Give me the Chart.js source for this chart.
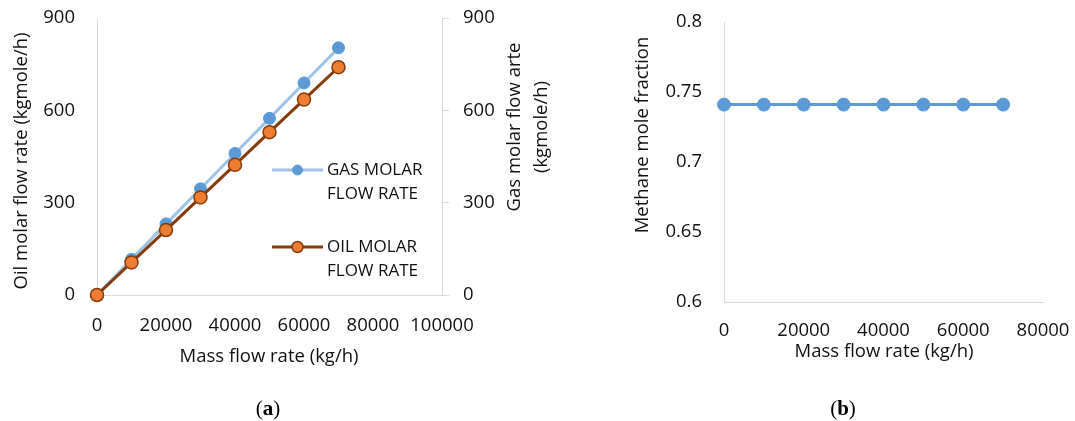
<!DOCTYPE html>
<html>
<head>
<meta charset="utf-8">
<script src="https://cdn.jsdelivr.net/npm/chart.js@4"></script>
<style>
  body { margin: 0; background: #fff; width: 1075px; height: 421px; position: relative; overflow: hidden; }
  .wrap { position: absolute; top: 0; }
  .cap { position: absolute; top: 396px; font-family: "Liberation Serif", serif; font-size: 21px; color: #000; transform: translateX(-50%); }
</style>
</head>
<body>
<div class="wrap" style="left:0"><canvas id="chartA" width="560" height="421"></canvas></div>
<div class="wrap" style="left:560px"><canvas id="chartB" width="515" height="421"></canvas></div>
<div class="cap" style="left:268px">(<b>a</b>)</div>
<div class="cap" style="left:843px">(<b>b</b>)</div>

<script>
// ---- Data ----
const massFlow = [0, 10000, 20000, 30000, 40000, 50000, 60000, 70000];
const gasMolar = [0, 116, 231, 345, 460, 574, 689, 803];
const oilMolar = [0, 106, 211, 317, 423, 529, 635, 740];
const methaneFrac = [0.741, 0.741, 0.741, 0.741, 0.741, 0.741, 0.741, 0.741];

const molarTicks = [0, 300, 600, 900];
const fracTicks = [0.6, 0.65, 0.7, 0.75, 0.8];

// ---- Styles ----
const FONT = '"Open Sans", sans-serif';
const tickFont = { family: FONT, size: 18.5 };
const axisGrey = '#d9d9d9';
const textCol = '#111';

function pts(xs, ys) {
  return xs.map((x, i) => ({ x: x, y: ys[i] }));
}

// fixed axis box size, no extra label overflow padding
function fixSize(w, h) {
  return s => {
    if (w) s.width = w;
    if (h) s.height = h;
    s.paddingTop = 0; s.paddingBottom = 0;
    s.paddingLeft = 0; s.paddingRight = 0;
  };
}

// draws free text (axis titles) and the custom legend
const extraText = {
  id: 'extraText',
  afterDraw(chart, args, opts) {
    const ctx = chart.ctx;
    (opts.items || []).forEach(t => {
      ctx.save();
      ctx.font = t.font || '18.5px ' + FONT;
      ctx.fillStyle = textCol;
      ctx.textAlign = t.align || 'center';
      ctx.textBaseline = 'middle';
      ctx.translate(t.x, t.y);
      if (t.rot) ctx.rotate(t.rot);
      ctx.fillText(t.text, 0, 0);
      ctx.restore();
    });
    (opts.legend || []).forEach(l => {
      ctx.save();
      ctx.strokeStyle = l.line;
      ctx.lineWidth = 3;
      ctx.beginPath();
      ctx.moveTo(l.x, l.y);
      ctx.lineTo(l.x + 51, l.y);
      ctx.stroke();
      ctx.beginPath();
      ctx.arc(l.x + 25.5, l.y, l.r, 0, Math.PI * 2);
      ctx.fillStyle = l.fill;
      ctx.fill();
      ctx.lineWidth = l.bw;
      ctx.strokeStyle = l.border;
      ctx.stroke();
      ctx.font = '17px ' + FONT;
      ctx.fillStyle = textCol;
      ctx.textAlign = 'left';
      ctx.textBaseline = 'middle';
      l.text.forEach((s, i) => ctx.fillText(s, l.x + 55, l.y + i * 24));
      ctx.restore();
    });
  }
};

function fmtTick(v) { return String(Number(v.toFixed(2))); }

// ---- Chart (a) ----
new Chart(document.getElementById('chartA'), {
  type: 'line',
  data: {
    datasets: [
      {
        label: 'GAS MOLAR FLOW RATE',
        data: pts(massFlow, gasMolar),
        yAxisID: 'y1',
        borderColor: '#9DC3E6',
        borderWidth: 3,
        pointRadius: 6,
        pointBackgroundColor: '#5B9BD5',
        pointBorderColor: '#5B9BD5',
        pointBorderWidth: 1,
        clip: false,
        order: 1
      },
      {
        label: 'OIL MOLAR FLOW RATE',
        data: pts(massFlow, oilMolar),
        yAxisID: 'y',
        borderColor: '#843C0C',
        borderWidth: 3,
        pointRadius: 6.5,
        pointBackgroundColor: '#ED7D31',
        pointBorderColor: '#843C0C',
        pointBorderWidth: 1.5,
        clip: false,
        order: 0
      }
    ]
  },
  options: {
    responsive: false,
    animation: false,
    layout: { padding: { top: 18, left: 0, right: 0, bottom: 0 } },
    plugins: {
      legend: { display: false },
      tooltip: { enabled: false },
      extraText: {
        items: [
          { text: 'Oil molar flow rate (kgmole/h)', x: 22, y: 161, rot: -Math.PI / 2 },
          { text: 'Mass flow rate (kg/h)', x: 269, y: 357 },
          { text: 'Gas molar flow arte', x: 515, y: 127, rot: -Math.PI / 2 },
          { text: '(kgmole/h)', x: 542, y: 127, rot: -Math.PI / 2 }
        ],
        legend: [
          { x: 272, y: 170, line: '#9DC3E6', fill: '#5B9BD5', border: '#5B9BD5', bw: 1, r: 5, text: ['GAS MOLAR', 'FLOW RATE'] },
          { x: 272, y: 247, line: '#843C0C', fill: '#ED7D31', border: '#843C0C', bw: 1.5, r: 5.5, text: ['OIL MOLAR', 'FLOW RATE'] }
        ]
      }
    },
    scales: {
      x: {
        type: 'linear',
        min: 0, max: 100000,
        afterFit: fixSize(0, 126),
        ticks: { stepSize: 20000, font: tickFont, color: textCol, padding: 20, maxRotation: 0, callback: v => String(v) },
        grid: { display: false, drawTicks: false },
        border: { color: axisGrey, width: 1 }
      },
      y: {
        position: 'left',
        min: 0, max: 900,
        afterFit: fixSize(97, 0),
        afterBuildTicks: s => { s.ticks = molarTicks.map(v => ({ value: v })); },
        ticks: { font: tickFont, color: textCol, padding: 22 },
        grid: { display: false, drawTicks: false },
        border: { color: axisGrey, width: 1 }
      },
      y1: {
        position: 'right',
        min: 0, max: 900,
        afterFit: fixSize(118, 0),
        afterBuildTicks: s => { s.ticks = molarTicks.map(v => ({ value: v })); },
        ticks: { font: tickFont, color: textCol, padding: 14 },
        grid: { display: true, drawOnChartArea: false, drawTicks: true, tickLength: 7, color: axisGrey },
        border: { color: axisGrey, width: 1 }
      }
    }
  },
  plugins: [extraText]
});

// ---- Chart (b) ----
new Chart(document.getElementById('chartB'), {
  type: 'line',
  data: {
    datasets: [
      {
        label: 'Methane mole fraction',
        data: pts(massFlow, methaneFrac),
        borderColor: '#5B9BD5',
        borderWidth: 3,
        pointRadius: 6.5,
        pointBackgroundColor: '#5B9BD5',
        pointBorderColor: '#5B9BD5',
        pointBorderWidth: 1,
        clip: false
      }
    ]
  },
  options: {
    responsive: false,
    animation: false,
    layout: { padding: { top: 22, left: 0, right: 32, bottom: 0 } },
    plugins: {
      legend: { display: false },
      tooltip: { enabled: false },
      extraText: {
        items: [
          { text: 'Methane mole fraction', x: 83, y: 135, rot: -Math.PI / 2 },
          { text: 'Mass flow rate (kg/h)', x: 324, y: 352 }
        ]
      }
    },
    scales: {
      x: {
        type: 'linear',
        min: 0, max: 80000,
        afterFit: fixSize(0, 119),
        ticks: { stepSize: 20000, font: tickFont, color: textCol, padding: 18, maxRotation: 0, callback: v => String(v) },
        grid: { display: false, drawTicks: false },
        border: { color: axisGrey, width: 1 }
      },
      y: {
        min: 0.6, max: 0.8,
        afterFit: fixSize(164, 0),
        afterBuildTicks: s => { s.ticks = fracTicks.map(v => ({ value: v })); },
        ticks: { font: tickFont, color: textCol, padding: 22, callback: v => fmtTick(v) },
        grid: { display: false, drawTicks: false },
        border: { color: axisGrey, width: 1 }
      }
    }
  },
  plugins: [extraText]
});
</script>
</body>
</html>
